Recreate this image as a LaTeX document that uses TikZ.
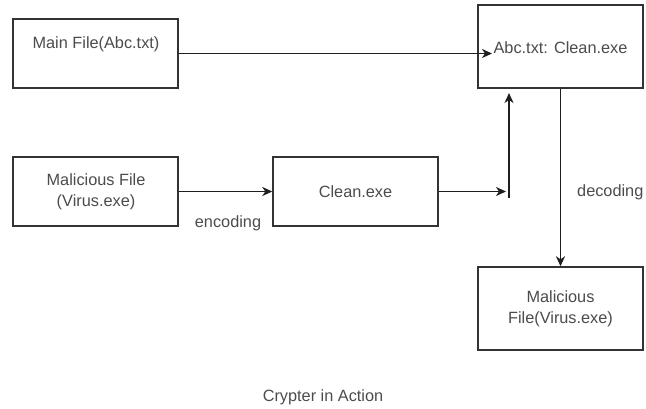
\documentclass[tikz,border=0pt]{standalone}
\usepackage{fontspec}
\setmainfont{Liberation Sans}
\usetikzlibrary{arrows.meta}
\begin{document}
\begin{tikzpicture}[x=1pt,y=-1pt,
  box/.style={draw=black!80, line width=1.4pt, fill=white, minimum width=165pt, inner sep=0pt},
  txt/.style={text=black!70, font=\fontsize{16.3}{21}\selectfont, align=center, inner sep=0pt},
  arr/.style={draw=black!88, line width=1.7pt, -{Stealth[length=10pt,width=9pt,inset=3pt]}}]
\useasboundingbox (0,0) rectangle (646,408);

% boxes
\node[box, minimum height=69pt] (main) at (95.5,53.5) {};
\node[txt] (mainlbl) at (96,44) {Main File(Abc.txt)};
\node[box, minimum height=83pt] (comb) at (560.5,46.5) {};
\node[txt] (comblbl) at (560.5,48) {Abc.txt: Clean.exe};
\node[box, minimum height=69pt] (mal) at (95.5,191.5) {};
\node[txt] (mallbl) at (96,191.5) {Malicious File\\(Virus.exe)};
\node[box, minimum height=69pt] (clean) at (355.5,191.5) {};
\node[txt] (cleanlbl) at (355.5,191.5) {Clean.exe};
\node[box, minimum height=83pt] (out) at (560.5,308.5) {};
\node[txt] (outlbl) at (560.5,309) {Malicious\\File(Virus.exe)};

% free ends of connectors
\coordinate (tipA) at (492,53.5);
\coordinate (tipB) at (506,191.5);
\coordinate (upBot) at (509,198);
\coordinate (upTop) at (509,93);

% connectors
\draw[arr] (main.east) -- (tipA);
\draw[arr] (mal.east) -- (clean.west);
\draw[arr] (clean.east) -- (tipB);
\draw[arr] (upBot) -- (upTop);
\draw[arr] (comb.south) -- (out.north);

% labels
\node[txt] (enc) at (228,223) {encoding};
\node[txt, anchor=west] (dec) at (577,192) {decoding};
\node[txt] (title) at (323,397) {Crypter in Action};
\end{tikzpicture}
\end{document}
